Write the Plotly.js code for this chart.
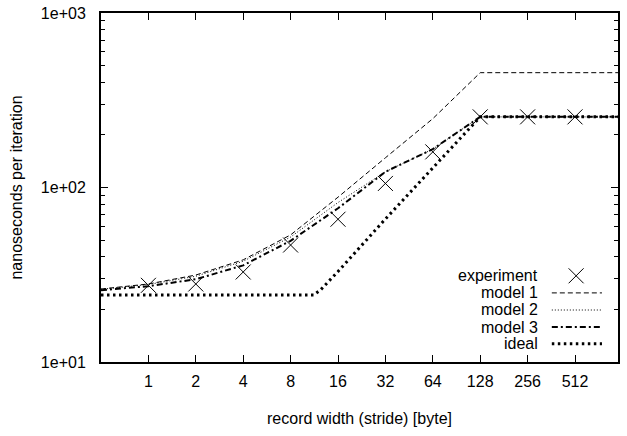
<!DOCTYPE html>
<html>
<head>
<meta charset="utf-8">
<script src="https://cdn.plot.ly/plotly-3.0.1.min.js"></script>
<style>html,body{margin:0;padding:0;background:#fff;}#chart{width:627px;height:436px;}</style>
</head>
<body>
<div id="chart"></div>
<script>
// Data (stride in bytes, nanoseconds per iteration)
const tickStrides = [1, 2, 4, 8, 16, 32, 64, 128, 256, 512];
const tickLabels = ["1", "2", "4", "8", "16", "32", "64", "128", "256", "512"];

const expStride = [1, 2, 4, 8, 16, 32, 64, 128, 256, 512];
const experiment = [27.5, 28.0, 32.8, 46.8, 65.8, 105.5, 160, 254, 254, 254];

const modelStride = [0.5, 1, 2, 4, 8, 16, 32, 64, 128, 256, 512, 1024];
const model1 = [26.2, 28.0, 31.5, 38.5, 53.5, 88, 148, 248, 455, 455, 455, 455];
const model2 = [26.1, 27.8, 31.0, 37.8, 52, 82, 123, 166, 254, 254, 254, 254];
const model3 = [25.8, 27.2, 29.8, 35.8, 49.5, 76, 123, 166, 254, 254, 254, 254];

const idealStride = [0.5, 1, 2, 4, 8, 11.2, 12.4, 14.3, 16, 32, 64, 128, 256, 512, 1024];
const ideal = [24.2, 24.2, 24.2, 24.2, 24.2, 24.2, 25.9, 29.5, 33, 66, 130, 254, 254, 254, 254];

const legendNames = ["experiment", "model 1", "model 2", "model 3", "ideal"];

const FONT = "Liberation Sans, Arial, sans-serif";
const FS = 16;

const styles = {
  "model 1": {color: "#000", width: 1, dash: "5px,3px"},
  "model 2": {color: "#000", width: 1, dash: "1px,2px"},
  "model 3": {color: "#000", width: 2, dash: "6px,3px,2px,3px"},
  "ideal": {color: "#000", width: 3, dash: "2.5px,3.5px"}
};

const traces = [
  {x: modelStride, y: model1, mode: "lines", line: styles["model 1"], showlegend: false, hoverinfo: "skip"},
  {x: modelStride, y: model2, mode: "lines", line: styles["model 2"], showlegend: false, hoverinfo: "skip"},
  {x: modelStride, y: model3, mode: "lines", line: styles["model 3"], showlegend: false, hoverinfo: "skip"},
  {x: idealStride, y: ideal, mode: "lines", line: styles["ideal"], showlegend: false, hoverinfo: "skip"},
  {x: expStride, y: experiment, mode: "markers", cliponaxis: false,
   marker: {symbol: "x-thin-open", size: 15, color: "#000", line: {color: "#000", width: 1}},
   showlegend: false, hoverinfo: "skip"}
];

// Custom gnuplot-style key (text right-aligned, sample to the right)
const keyTextX = 0.849;
const keySampleX0 = 0.872, keySampleX1 = 0.969, keyMarkX = 0.919;
const keyRowY = [0.247, 0.198, 0.149, 0.100, 0.052];
const annotations = [];
legendNames.forEach((name, i) => {
  annotations.push({xref: "paper", yref: "paper", x: keyTextX, y: keyRowY[i], text: name,
    showarrow: false, xanchor: "right", yanchor: "middle", font: {family: FONT, size: FS, color: "#000"}});
  if (i === 0) {
    traces.push({x: [keyMarkX], y: [keyRowY[i]], xaxis: "x2", yaxis: "y2", mode: "markers",
      marker: {symbol: "x-thin-open", size: 15, color: "#000", line: {color: "#000", width: 1}},
      showlegend: false, hoverinfo: "skip"});
  } else {
    traces.push({x: [keySampleX0, keySampleX1], y: [keyRowY[i], keyRowY[i]], xaxis: "x2", yaxis: "y2",
      mode: "lines", line: styles[name], showlegend: false, hoverinfo: "skip"});
  }
});

const layout = {
  width: 627, height: 436,
  margin: {l: 101, r: 9, t: 13, b: 74},
  paper_bgcolor: "#fff", plot_bgcolor: "#fff",
  font: {family: FONT, size: FS, color: "#000"},
  showlegend: false,
  xaxis: {
    type: "log", range: [Math.log10(0.5), Math.log10(960)],
    tickmode: "array", tickvals: tickStrides, ticktext: tickLabels,
    ticks: "inside", ticklen: 7, tickwidth: 1, tickcolor: "#000",
    showline: true, linecolor: "#000", linewidth: 2, mirror: "ticks",
    showgrid: false, zeroline: false, ticklabelstandoff: 4,
    title: {text: "record width (stride) [byte]", font: {family: FONT, size: FS}, standoff: 24}
  },
  yaxis: {
    type: "log", range: [1, 3],
    tickmode: "array", tickvals: [10, 100, 1000], ticktext: ["1e+01", "1e+02", "1e+03"],
    ticks: "inside", ticklen: 7, tickwidth: 1, tickcolor: "#000",
    minor: {tickmode: "array", tickvals: [20,30,40,50,60,70,80,90,200,300,400,500,600,700,800,900],
            ticks: "inside", ticklen: 4, tickwidth: 1, tickcolor: "#000", showgrid: false},
    showline: true, linecolor: "#000", linewidth: 2, mirror: "ticks",
    showgrid: false, zeroline: false, ticklabelstandoff: 10,
    title: {text: "nanoseconds per iteration", font: {family: FONT, size: FS}, standoff: 14}
  },
  xaxis2: {overlaying: "x", range: [0, 1], visible: false, fixedrange: true},
  yaxis2: {overlaying: "y", range: [0, 1], visible: false, fixedrange: true},
  annotations: annotations
};

Plotly.newPlot("chart", traces, layout, {staticPlot: true, displayModeBar: false});
</script>
</body>
</html>
